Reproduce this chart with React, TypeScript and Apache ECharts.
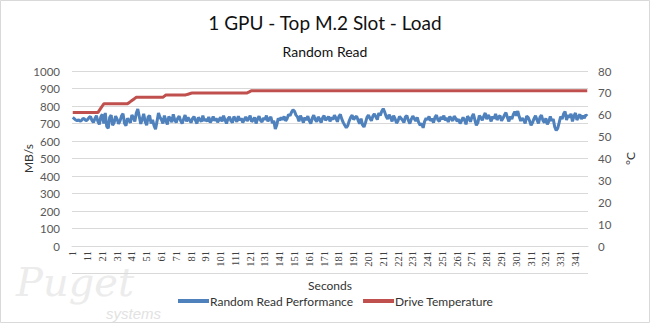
import React, { useEffect, useRef } from "react";
import * as echarts from "echarts";

const titleText = "1 GPU - Top M.2 Slot - Load";
const subtitleText = "Random Read";
const xAxisName = "Seconds";
const leftAxisName = "MB/s";
const rightAxisName = "°C";
const seriesNames = ["Random Read Performance", "Drive Temperature"];

// Random read performance (MB/s), seconds 1..349
const readMBs: number[] = [
  735, 728, 720, 716, 722, 712, 718, 730, 725, 715,
  722, 734, 740, 718, 706, 728, 745, 712, 695, 738,
  752, 700, 760, 682, 672, 735, 748, 690, 705, 742,
  725, 698, 715, 744, 756, 702, 688, 730, 718, 705,
  748, 735, 712, 760, 782, 740, 698, 725, 755, 710,
  690, 738, 745, 700, 720, 688, 668, 712, 760, 735,
  722, 700, 745, 716, 695, 740, 728, 708, 752, 720,
  706, 730, 742, 715, 700, 725, 748, 712, 735, 720,
  705, 728, 740, 718, 700, 735, 722, 710, 745, 715,
  725, 712, 738, 705, 720, 740, 715, 730, 708, 722,
  735, 712, 745, 720, 700, 728, 738, 715, 705, 740,
  725, 710, 742, 718, 730, 705, 722, 738, 715, 728,
  745, 710, 720, 735, 700, 725, 742, 718, 708, 732,
  722, 745, 712, 728, 738, 702, 715, 668, 692, 730,
  718, 735, 722, 740, 715, 728, 752, 745, 765, 778,
  770, 748, 738, 712, 745, 728, 705, 735, 720, 742,
  715, 700, 730, 748, 722, 710, 738, 725, 705, 732,
  745, 718, 728, 740, 712, 735, 722, 748, 730, 710,
  740, 752, 725, 705, 690, 676, 688, 715, 735, 748,
  722, 735, 742, 718, 700, 728, 692, 680, 705, 735,
  748, 730, 715, 742, 755, 738, 722, 760, 745, 770,
  785, 765, 740, 725, 750, 735, 712, 745, 728, 702,
  715, 740, 730, 720, 705, 738, 745, 718, 700, 725,
  742, 728, 715, 735, 705, 690, 700, 675, 712, 730,
  722, 740, 715, 728, 705, 735, 748, 720, 712, 738,
  725, 745, 718, 732, 708, 740, 728, 715, 742, 730,
  712, 725, 700, 715, 735, 720, 695, 742, 730, 710,
  738, 755, 720, 690, 705, 745, 735, 718, 742, 760,
  725, 748, 735, 712, 740, 728, 755, 720, 738, 745,
  715, 730, 748, 762, 735, 712, 740, 725, 752, 768,
  745, 771, 738, 715, 730, 720, 700, 742, 735, 715,
  690, 705, 728, 745, 720, 700, 735, 748, 718, 705,
  730, 695, 712, 740, 715, 725, 680, 660, 672, 705,
  740, 725, 755, 768, 720, 748, 735, 755, 712, 742,
  760, 720, 738, 752, 725, 745, 730, 750, 742,
];

// Drive temperature (°C) as [value, number of consecutive seconds]
const tempRuns: [number, number][] = [
  [61, 18], [62, 1], [63, 1], [64, 1], [65, 17],
  [65.5, 1], [66, 1], [66.5, 1], [67, 1], [67.5, 1],
  [68, 19], [68.5, 1], [69, 14],
  [69.2, 1], [69.4, 1], [69.6, 1], [69.8, 1],
  [70, 38], [70.3, 1], [70.7, 1], [71, 228],
];

const seconds: string[] = readMBs.map((_, i) => String(i + 1));
const tempC: number[] = tempRuns.flatMap(([v, n]) => Array(n).fill(v));

export default function App() {
  const ref = useRef<HTMLDivElement>(null);
  useEffect(() => {
    document.body.style.margin = "0";
    if (!ref.current) return;
    const chart = echarts.init(ref.current, null, { renderer: "svg" });
    const font = "Lato";
    chart.setOption({
      animation: false,
      backgroundColor: "#ffffff",
      title: [
        {
          text: titleText,
          left: "center",
          top: 8,
          textStyle: { fontFamily: font, fontSize: 19, fontWeight: "normal", color: "#111" },
        },
        {
          text: subtitleText,
          left: "center",
          top: 39,
          textStyle: { fontFamily: font, fontSize: 14, fontWeight: "normal", color: "#111" },
        },
      ],
      legend: {
        left: 173,
        top: 290,
        icon: "rect",
        itemWidth: 31,
        itemHeight: 4,
        itemGap: 10,
        textStyle: { fontFamily: font, fontSize: 12, color: "#333", padding: [0, 0, 0, -4] },
        data: seriesNames,
      },
      grid: { left: 72, right: 62, top: 71, bottom: 77, containLabel: false },
      xAxis: {
        type: "category",
        data: seconds,
        boundaryGap: true,
        name: xAxisName,
        nameLocation: "middle",
        nameGap: 33,
        nameTextStyle: { fontFamily: font, fontSize: 12, color: "#333" },
        axisLine: { show: true, lineStyle: { color: "#d9d9d9" } },
        axisTick: { show: false },
        axisLabel: {
          interval: 9,
          rotate: 90,
          fontFamily: "Liberation Serif",
          fontSize: 10.5,
          color: "#404040",
          margin: 5,
        },
        splitLine: { show: false },
      },
      yAxis: [
        {
          type: "value",
          min: 0,
          max: 1000,
          interval: 100,
          name: leftAxisName,
          nameLocation: "middle",
          nameGap: 38,
          nameMoveOverlap: false,
          nameTextStyle: { fontFamily: font, fontSize: 12, color: "#333" },
          axisLabel: {
            fontFamily: font,
            fontSize: 11.5,
            color: "#595959",
            margin: 12,
            formatter: (v: number) => String(v),
          },
          axisLine: { show: false },
          axisTick: { show: false },
          splitLine: { lineStyle: { color: "#d9d9d9", width: 1 } },
        },
        {
          type: "value",
          min: 0,
          max: 80,
          interval: 10,
          position: "right",
          name: rightAxisName,
          nameLocation: "middle",
          nameGap: 36,
          nameMoveOverlap: false,
          nameTextStyle: { fontFamily: font, fontSize: 12, color: "#333" },
          axisLabel: { fontFamily: font, fontSize: 11.5, color: "#595959", margin: 10 },
          axisLine: { show: false },
          axisTick: { show: false },
          splitLine: { show: false },
        },
      ],
      series: [
        {
          name: seriesNames[0],
          type: "line",
          yAxisIndex: 0,
          data: readMBs,
          showSymbol: false,
          symbol: "none",
          color: "#4f81bd",
          lineStyle: { color: "#4f81bd", width: 3 },
        },
        {
          name: seriesNames[1],
          type: "line",
          yAxisIndex: 1,
          data: tempC,
          showSymbol: false,
          symbol: "none",
          color: "#c0504d",
          lineStyle: { color: "#c0504d", width: 3 },
        },
      ],
      graphic: [
        {
          type: "rect",
          silent: true,
          shape: { x: 0.5, y: 0.5, width: 649, height: 322 },
          style: { fill: "none", stroke: "#d9d9d9", lineWidth: 1 },
        },
        {
          type: "line",
          silent: true,
          shape: { x1: 72, y1: 273.5, x2: 588, y2: 273.5 },
          style: { stroke: "#d9d9d9", lineWidth: 1 },
        },
        {
          type: "text",
          silent: true,
          left: 16,
          top: 262,
          z: -1,
          style: {
            text: "Puget",
            font: "italic 40px 'DejaVu Serif'",
            lineHeight: 36,
            fill: "#ececec",
          },
        },
        {
          type: "text",
          silent: true,
          left: 106,
          top: 306,
          z: -1,
          style: {
            text: "systems",
            font: "italic 15px 'Liberation Sans'",
            lineHeight: 13,
            fill: "#e2e2e2",
          },
        },
      ],
    });
    return () => chart.dispose();
  }, []);
  return <div ref={ref} style={{ width: 650, height: 323 }} />;
}
